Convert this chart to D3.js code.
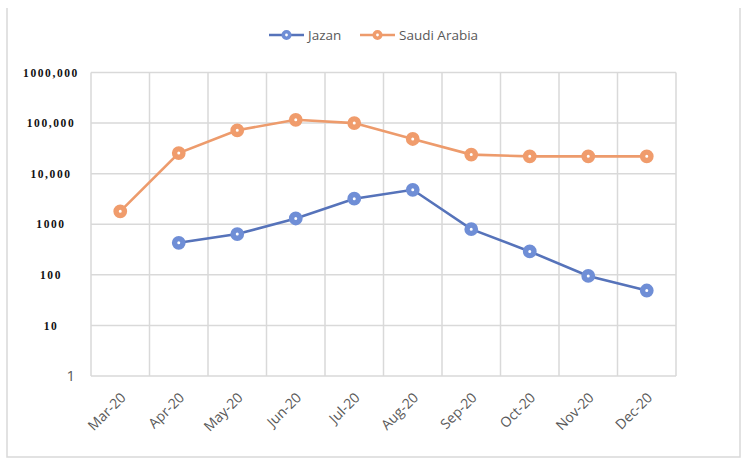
<!DOCTYPE html>
<html lang="en">
<head>
  <meta charset="UTF-8">
  <title>Jazan vs Saudi Arabia</title>
  <script src="https://d3js.org/d3.v7.min.js"></script>
  <style>
    body { margin: 0; background: #fff; }
    svg { display: block; }
  </style>
</head>
<body>
  <svg width="750" height="464"></svg>

  <script>
    const months = ["Mar-20", "Apr-20", "May-20", "Jun-20", "Jul-20", "Aug-20", "Sep-20", "Oct-20", "Nov-20", "Dec-20"];
    const jazan = [null, 430, 640, 1300, 3200, 4800, 800, 290, 95, 49];
    const saudi = [1800, 25500, 72000, 116000, 100000, 48500, 23800, 22000, 22000, 22000];
    const yTicks = [1, 10, 100, 1000, 10000, 100000, 1000000];
    const yTickLabels = ["1", "10", "100", "1000", "10,000", "100,000", "1000,000"];

    const series = [
      { name: "Jazan", values: jazan, line: "#5673ba", mark: "#6f8ed6" },
      { name: "Saudi Arabia", values: saudi, line: "#ed9b6c", mark: "#f09c6c" }
    ];

    const svg = d3.select("svg");

    // outer frame (top edge is cropped in the original)
    svg.append("path")
      .attr("d", "M7,8 V457 H740 V8")
      .attr("fill", "none")
      .attr("stroke", "#d9d9d9")
      .attr("stroke-width", 1.5);

    const x = d3.scaleBand().domain(months).range([91, 676]);
    const y = d3.scaleLog().domain([1, 1000000]).range([376, 72.5]);

    // grid
    const grid = svg.append("g").attr("stroke", "#d9d9d9").attr("stroke-width", 1.5);
    grid.selectAll(".h").data(yTicks).enter().append("line")
      .attr("x1", 91).attr("x2", 676)
      .attr("y1", d => y(d)).attr("y2", d => y(d));
    grid.selectAll(".v").data(months.concat(["end"])).enter().append("line")
      .attr("x1", (d, i) => i < months.length ? x(d) : x.range()[1])
      .attr("x2", (d, i) => i < months.length ? x(d) : x.range()[1])
      .attr("y1", y(1000000)).attr("y2", y(1));

    // y labels
    svg.selectAll(".ylab").data(yTicks).enter().append("text")
      .attr("x", (d, i) => i === 0 ? 75 : 51)
      .attr("y", d => y(d))
      .attr("dy", "0.36em")
      .attr("text-anchor", (d, i) => i === 0 ? "end" : "middle")
      .attr("font-family", (d, i) => i === 0 ? "Open Sans, sans-serif" : "Liberation Serif, serif")
      .attr("font-weight", (d, i) => i === 0 ? "normal" : "bold")
      .attr("font-size", (d, i) => i === 0 ? "15px" : "11.5px")
      .attr("letter-spacing", (d, i) => i === 0 ? "0px" : "1.6px")
      .attr("fill", (d, i) => i === 0 ? "#595959" : "#111")
      .text((d, i) => yTickLabels[i]);

    // x labels
    svg.selectAll(".xlab").data(months).enter().append("text")
      .attr("transform", d => `translate(${x(d) + x.bandwidth() / 2 + 3},${395}) rotate(-45)`)
      .attr("text-anchor", "end")
      .attr("dy", "0.35em")
      .attr("font-family", "Open Sans, sans-serif")
      .attr("font-size", "14px")
      .attr("fill", "#595959")
      .text(d => d);

    const cx = i => x(months[i]) + x.bandwidth() / 2;
    const line = d3.line()
      .defined(d => d != null)
      .x((d, i) => cx(i))
      .y(d => y(d));

    series.forEach(s => {
      svg.append("path")
        .datum(s.values)
        .attr("fill", "none")
        .attr("stroke", s.line)
        .attr("stroke-width", 2.6)
        .attr("d", line);

      svg.append("g").selectAll("circle")
        .data(s.values.map((v, i) => ({ v, i })).filter(d => d.v != null))
        .enter().append("circle")
        .attr("cx", d => cx(d.i))
        .attr("cy", d => y(d.v))
        .attr("r", 4.2)
        .attr("fill", "#fff")
        .attr("stroke", s.mark)
        .attr("stroke-width", 5.4);
    });

    // legend
    const legendX = [269, 360];
    const legend = svg.append("g");
    series.forEach((s, k) => {
      const lx = legendX[k];
      legend.append("line")
        .attr("x1", lx).attr("x2", lx + 35)
        .attr("y1", 35).attr("y2", 35)
        .attr("stroke", s.line).attr("stroke-width", 2.6);
      legend.append("circle")
        .attr("cx", lx + 17.5).attr("cy", 35).attr("r", 3.2)
        .attr("fill", "#fff").attr("stroke", s.mark).attr("stroke-width", 3.6);
      legend.append("text")
        .attr("x", lx + 39).attr("y", 35).attr("dy", "0.35em")
        .attr("font-family", "Open Sans, sans-serif")
        .attr("font-size", "13.5px")
        .attr("fill", "#595959")
        .text(s.name);
    });
  </script>
</body>
</html>
